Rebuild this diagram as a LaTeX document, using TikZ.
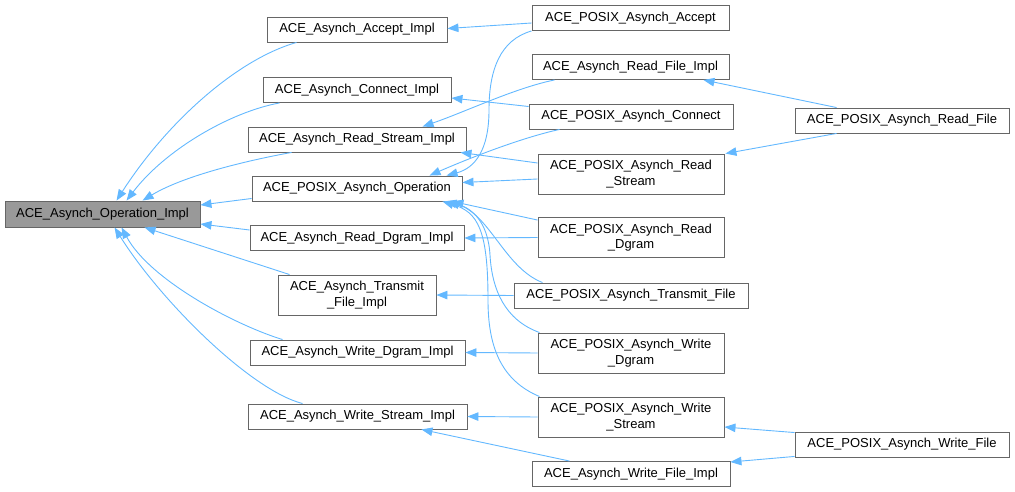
\documentclass[tikz,border=0pt]{standalone}
\usepackage{fontspec}
\setmainfont{Liberation Sans}
\usetikzlibrary{arrows.meta}
\definecolor{edgeblue}{HTML}{63B8FF}
\definecolor{boxgray}{HTML}{666666}
\definecolor{basefill}{HTML}{999999}
\begin{document}
\begin{tikzpicture}[x=1pt,y=-1pt,
  font=\fontsize{13}{15.3}\selectfont,
  cls/.style={draw=boxgray, line width=0.9pt, fill=white, inner sep=0pt, minimum height=25pt, align=center, text=black},
  two/.style={minimum height=40pt},
  edge/.style={draw=edgeblue, line width=0.9pt, -{Triangle[length=11pt,width=8.5pt]}}]
\useasboundingbox (0,0) rectangle (1015,492);
% left column
\node[cls, fill=basefill, minimum width=195pt, minimum height=26pt] (base) at (102.5,214) {ACE\_Asynch\_Operation\_Impl};
% middle column
\node[cls, minimum width=180pt] (accImpl) at (357,29.5) {ACE\_Asynch\_Accept\_Impl};
\node[cls, minimum width=188pt] (conImpl) at (357,90) {ACE\_Asynch\_Connect\_Impl};
\node[cls, minimum width=218pt] (rsImpl) at (357,139.5) {ACE\_Asynch\_Read\_Stream\_Impl};
\node[cls, minimum width=210pt] (posOp) at (357,188.5) {ACE\_POSIX\_Asynch\_Operation};
\node[cls, minimum width=214pt] (rdImpl) at (357,238) {ACE\_Asynch\_Read\_Dgram\_Impl};
\node[cls, two, minimum width=158pt] (tfImpl) at (357,295) {ACE\_Asynch\_Transmit\\\_File\_Impl};
\node[cls, minimum width=215pt] (wdImpl) at (357.5,352.5) {ACE\_Asynch\_Write\_Dgram\_Impl};
\node[cls, minimum width=219pt] (wsImpl) at (357.5,416.5) {ACE\_Asynch\_Write\_Stream\_Impl};
% right column
\node[cls, minimum width=197pt] (pAcc) at (630.5,18) {ACE\_POSIX\_Asynch\_Accept};
\node[cls, minimum width=197pt] (rfImpl) at (630.5,67) {ACE\_Asynch\_Read\_File\_Impl};
\node[cls, minimum width=204pt] (pCon) at (631,116.5) {ACE\_POSIX\_Asynch\_Connect};
\node[cls, two, minimum width=186pt] (pRS) at (631,174) {ACE\_POSIX\_Asynch\_Read\\\_Stream};
\node[cls, two, minimum width=186pt] (pRD) at (631,237.5) {ACE\_POSIX\_Asynch\_Read\\\_Dgram};
\node[cls, minimum width=234pt] (pTF) at (631,295.5) {ACE\_POSIX\_Asynch\_Transmit\_File};
\node[cls, two, minimum width=186pt] (pWD) at (631,353) {ACE\_POSIX\_Asynch\_Write\\\_Dgram};
\node[cls, two, minimum width=186pt] (pWS) at (631,417) {ACE\_POSIX\_Asynch\_Write\\\_Stream};
\node[cls, minimum width=198pt] (wfImpl) at (631,474) {ACE\_Asynch\_Write\_File\_Impl};
% far right
\node[cls, minimum width=214pt] (pRF) at (902,120.5) {ACE\_POSIX\_Asynch\_Read\_File};
\node[cls, minimum width=214pt] (pWF) at (902,444.5) {ACE\_POSIX\_Asynch\_Write\_File};

% edges into base
\draw[edge] ([xshift=30pt]accImpl.south west) .. controls (235,60) and (165,125) .. ([xshift=112pt]base.north west);
\draw[edge] ([xshift=17pt]conImpl.south west) .. controls (230,112) and (165,150) .. ([xshift=122pt]base.north west);
\draw[edge] ([xshift=44pt]rsImpl.south west) .. controls (250,160) and (185,175) .. ([xshift=138pt]base.north west);
\draw[edge] ([yshift=-10pt]posOp.west) -- ([yshift=9pt]base.east);
\draw[edge] ([yshift=8pt]rdImpl.west) -- ([yshift=-10pt]base.east);
\draw[edge] ([xshift=12pt]tfImpl.north west) -- ([xshift=140pt]base.south west);
\draw[edge] ([xshift=33pt]wdImpl.north west) .. controls (235,325) and (150,280) .. ([xshift=117pt]base.south west);
\draw[edge] ([xshift=55pt]wsImpl.north west) .. controls (250,390) and (160,300) .. ([xshift=110pt]base.south west);

% right column edges
\draw[edge] ([yshift=-5pt]pAcc.west) -- ([yshift=1pt]accImpl.east);
\draw[edge] (pAcc.south west) .. controls (500,40) and (489,70) .. (489,110) .. controls (489,150) and (475,168) .. ([xshift=195pt]posOp.north west);
\draw[edge] ([xshift=23pt]rfImpl.south west) .. controls (515,88) and (465,112) .. ([xshift=175pt]rsImpl.north west);
\draw[edge] ([yshift=10pt]pCon.west) -- ([yshift=-8pt]conImpl.east);
\draw[edge] ([xshift=31pt]pCon.south west) .. controls (520,138) and (465,160) .. ([xshift=178pt]posOp.north west);
\draw[edge] ([yshift=11pt]pRS.west) -- ([xshift=-6pt]rsImpl.south east);
\draw[edge] ([yshift=-5pt]pRS.west) -- ([yshift=6pt]posOp.east);
\draw[edge] ([xshift=42pt]pRF.north west) -- ([xshift=-26pt]rfImpl.south east);
\draw[edge] ([xshift=42pt]pRF.south west) -- ([xshift=1pt]pRS.north east);
\draw[edge] (pRD.west) -- (rdImpl.east);
\draw[edge] ([yshift=-3pt]pRD.north west) -- ([xshift=-10pt]posOp.south east);
\draw[edge] (pTF.west) -- (tfImpl.east);
\draw[edge] ([xshift=29pt]pTF.north west) .. controls (505,268) and (490,215) .. ([xshift=-14pt]posOp.south east);
\draw[edge] (pWD.west) -- (wdImpl.east);
\draw[edge] ([xshift=2pt]pWD.north west) .. controls (505,320) and (492,290) .. (490,255) .. controls (488,220) and (470,207) .. ([xshift=-17pt]posOp.south east);
\draw[edge] (pWS.west) -- (wsImpl.east);
\draw[edge] ([xshift=2pt]pWS.north west) .. controls (500,380) and (488,345) .. (488,300) .. controls (488,230) and (478,212) .. ([xshift=-20pt]posOp.south east);
\draw[edge] ([xshift=38pt]wfImpl.north west) -- ([xshift=-46pt]wsImpl.south east);
\draw[edge] ([yshift=-1pt]pWF.north west) -- ([yshift=-10pt]pWS.east);
\draw[edge] ([yshift=1pt]pWF.south west) -- ([yshift=12pt]wfImpl.east);
\end{tikzpicture}
\end{document}
